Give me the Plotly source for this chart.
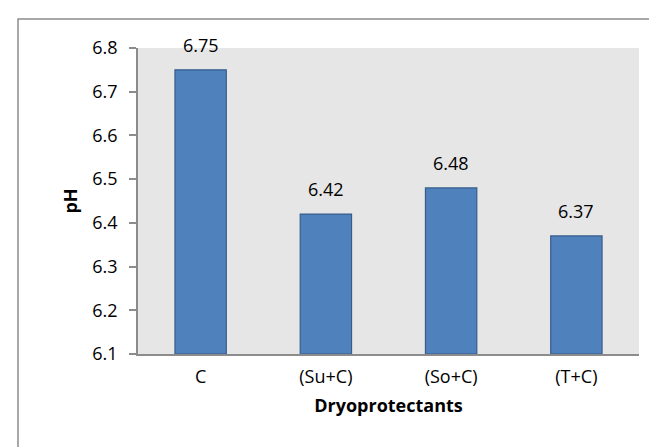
import plotly.graph_objects as go

categories = ["C", "(Su+C)", "(So+C)", "(T+C)"]
ph_values = [6.75, 6.42, 6.48, 6.37]
y_ticks = [6.1, 6.2, 6.3, 6.4, 6.5, 6.6, 6.7, 6.8]
y_base = 6.1

FONT = "Open Sans"
FS = 18

fig = go.Figure()
fig.add_trace(go.Bar(
    x=categories,
    y=[v - y_base for v in ph_values],
    base=y_base,
    marker=dict(color="#4f81bd", line=dict(color="#385d8a", width=1.2)),
    hoverinfo="skip",
))

for c, v in zip(categories, ph_values):
    fig.add_annotation(x=c, y=v, text=f"{v:.2f}", showarrow=False,
                       yanchor="bottom", yshift=11,
                       font=dict(family=FONT, size=FS, color="#000000"))

fig.update_layout(
    width=657, height=447,
    margin=dict(l=130, r=26, t=40, b=101),
    paper_bgcolor="#ffffff",
    plot_bgcolor="#e6e6e6",
    bargap=0.59,
    showlegend=False,
    font=dict(family=FONT, size=FS, color="#000000"),
    xaxis=dict(
        showline=True, linecolor="#8c8c8c", linewidth=1.5,
        ticks="", showgrid=False, ticklabelstandoff=6,
        tickfont=dict(family=FONT, size=FS),
        title=dict(text="<b>Dryoprotectants</b>", font=dict(family=FONT, size=FS), standoff=12),
    ),
    yaxis=dict(
        range=[6.1, 6.8], tickvals=y_ticks, ticktext=[f"{t:.1f}" for t in y_ticks],
        showline=True, linecolor="#8c8c8c", linewidth=1.5,
        ticks="outside", ticklen=7, tickcolor="#8c8c8c", tickwidth=1.5,
        showgrid=False, zeroline=False, ticklabelstandoff=8,
        tickfont=dict(family=FONT, size=FS),
        title=dict(text="<b>pH</b>", font=dict(family=FONT, size=FS), standoff=10),
    ),
    shapes=[dict(type="rect", xref="paper", yref="paper",
                 x0=-0.2395, x1=1.1, y0=-0.4, y1=1.0948,
                 line=dict(color="#8c8c8c", width=1.5), fillcolor="rgba(0,0,0,0)",
                 layer="below")],
)

fig.write_html("out.html")
